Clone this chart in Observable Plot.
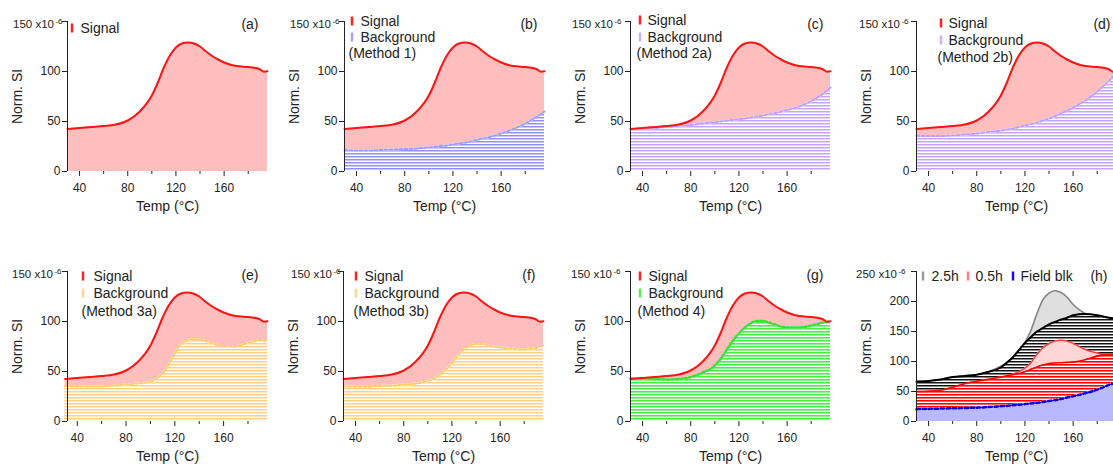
<!DOCTYPE html>
<html>
<head>
<meta charset="utf-8">
<script src="https://cdn.jsdelivr.net/npm/d3@7"></script>
<script src="https://cdn.jsdelivr.net/npm/@observablehq/plot@0.6"></script>
<style>
  html, body { margin: 0; padding: 0; background: #fff; }
  body { width: 1113px; height: 465px; overflow: hidden; position: relative; }
  .panel { position: absolute; }
  .panel svg { max-width: none; overflow: visible; }
</style>
</head>
<body>
<div id="figure"></div>
<script>
// Temperature grid (°C) shared by every curve
const temp = [30, 40, 50, 60, 70, 80, 90, 100, 105, 110, 115, 120, 125, 130, 135, 140, 145, 150, 155, 160, 170, 180, 185, 190, 193, 196];

// Normalised signal intensity (x10^-6), panels (a)-(g)
const signal     = [42.5, 43.5, 44.5, 45.5, 47, 51, 60, 76, 89, 104, 116, 124, 128, 129, 128, 125, 120, 115.5, 112, 109, 105.5, 104.5, 103.8, 102, 99.8, 100.2];
const bgMethod1  = [21.5, 21, 21, 21.5, 22, 22.5, 23, 24, 24.5, 25.5, 26, 27, 28, 29, 30, 31.5, 33, 34.5, 36, 38, 42.5, 48, 51.5, 55, 57.5, 60];
const bgMethod2a = [42.5, 43, 43.5, 44.5, 45.5, 46.5, 48, 49.5, 50, 51, 51.5, 52.5, 53, 54, 55, 56, 57.5, 58.5, 60, 61.5, 65, 70.5, 74, 78, 81, 84];
const bgMethod2b = [35.5, 35.5, 35.5, 36, 37, 38, 39.5, 41, 42, 43, 44.5, 46, 47.5, 49, 51, 53, 55.5, 58, 61, 64, 71, 80, 85.5, 91, 95, 98];
const bgMethod3a = [35.5, 35, 35, 35, 36, 37, 38, 40, 43, 48, 57, 68, 77, 81, 82.5, 82, 80.5, 78.5, 76.5, 75.5, 75.5, 78.5, 80, 81.5, 81, 80];
const bgMethod3b = [35, 35, 35, 35.5, 36, 37, 38, 40.5, 43, 47, 52, 58, 66, 72, 76, 77.5, 77.5, 76.5, 75, 74, 73, 72, 72.5, 73.5, 75, 76];
const bgMethod4  = [43, 43, 42.5, 42, 42.5, 44.5, 49, 56, 63, 72, 81, 88, 94, 98.5, 100.5, 100.5, 99, 97, 95, 94, 94, 96, 97.5, 99, 99.5, 100];

// Panel (h): heating durations and field blank
const signal25h  = [66.5, 67, 69, 73.5, 76, 78, 83, 92, 98, 107, 119, 132, 152, 180, 203, 214, 218, 215, 207, 195, 180, 175, 173, 171.5, 170.5, 170];
const bg25h      = [66.5, 67.5, 70, 74, 76, 78, 83, 90, 98, 107, 119, 131, 141, 150, 156, 162, 166, 170, 173, 177, 179, 177, 175, 173, 172, 171];
const signal05h  = [50, 50.5, 52, 57, 63, 67, 70.5, 74, 76, 79, 83, 89, 98, 112, 123, 130, 134, 135.5, 134, 130, 120, 114, 112.5, 111.5, 111.5, 112];
const bg05h      = [50, 50.5, 52, 57, 63, 67, 70.5, 74, 76, 78, 80, 83, 87, 91, 94, 96.5, 97.5, 98, 98.5, 99, 103, 109, 111, 111.5, 111.5, 112];
const fieldBlank = [20.5, 21, 21.5, 22, 22.5, 23, 24, 25.5, 26, 27, 28, 29, 30, 31, 32.5, 34, 35.5, 37.5, 40, 42, 47, 53, 57, 61, 63, 65];

// Axis ticks and labels
const xTicks = [40, 80, 120, 160];
const xMinorTicks = [60, 100, 140, 180];
const yTicks150 = [0, 50, 100, 150];
const yTicks250 = [0, 50, 100, 150, 200, 250];
const unitExponent = "-6";
const xLabel = "Temp (°C)";
const yLabel = "Norm. SI";

const SVGNS = "http://www.w3.org/2000/svg";
const INK = "#222";
const FONT = "'Liberation Sans', Arial, Helvetica, sans-serif";
const curve = "monotone-x";
const ML = 67, MT = 21, MR = 20, MB = 44, PW = 200, PH = 150;

const rows = (ys) => temp.map((t, i) => ({t, v: ys[i]}));

// Horizontal hatch patterns used for the background fills
function stripeDefs(patterns) {
  return () => {
    const defs = document.createElementNS(SVGNS, "defs");
    defs.innerHTML = patterns.map(p =>
      `<pattern id="${p.id}" patternUnits="userSpaceOnUse" width="8" height="${p.period}">` +
      `<rect width="8" height="${p.period}" fill="${p.gap || "#fff"}"/>` +
      `<rect width="8" height="${p.line}" fill="${p.color}"/></pattern>`).join("");
    return defs;
  };
}

// Small vertical legend swatches, placed relative to the plot frame
function swatches(items) {
  return (index, scales, values, dims) => {
    const g = document.createElementNS(SVGNS, "g");
    for (const s of items) {
      const r = document.createElementNS(SVGNS, "rect");
      r.setAttribute("x", dims.marginLeft + s.dx - 1.25);
      r.setAttribute("y", dims.marginTop + s.dy - 4.5);
      r.setAttribute("width", 2.5);
      r.setAttribute("height", 9);
      r.setAttribute("fill", s.color);
      g.appendChild(r);
    }
    return g;
  };
}

function label(text, anchor, dx, dy, opts = {}) {
  return Plot.text([text], {
    text: d => d, frameAnchor: anchor, dx, dy,
    textAnchor: opts.textAnchor || "start", lineAnchor: "middle",
    fontSize: opts.size || 14, rotate: opts.rotate || 0, fill: INK
  });
}

function axes(cfg) {
  const yMax = cfg.yMax;
  const ticks = yMax === 250 ? yTicks250 : yTicks150;
  return [
    Plot.ruleX([cfg.xDomain[0]], {stroke: INK, strokeWidth: 1}),
    Plot.axisY({ticks, tickSize: 5, tickPadding: 2, label: null, color: INK,
                tickFormat: d => d === yMax ? "" : String(d)}),
    Plot.axisX({ticks: xTicks, tickSize: 5, tickPadding: 7, label: null, color: INK}),
    Plot.axisX({ticks: xMinorTicks, tickSize: 3, label: null, color: INK, tickFormat: () => ""}),
    label(`${yMax} x10`, "top-left", -cfg.expDx - 8.5, 3, {textAnchor: "end", size: 11.5}),
    label(unitExponent, "top-left", -cfg.expDx, 0, {textAnchor: "end", size: 8}),
    label(yLabel, "left", -50, 0, {textAnchor: "middle", rotate: -90}),
    label(xLabel, "bottom", 0, 35, {textAnchor: "middle"}),
    label(`(${cfg.id})`, "top-right", -cfg.tagDx, cfg.tagDy, {textAnchor: "end"})
  ];
}

function legendBlock(L) {
  const marks = [];
  const sw = [];
  L.rows.forEach((r, i) => {
    const dy = L.dys[i];
    if (r.color) {
      sw.push({dx: L.barDx, dy, color: r.color});
      marks.push(label(r.text, "top-left", L.textDx, dy));
    } else {
      marks.push(label(r.text, "top-left", L.methodDx, dy));
    }
  });
  marks.unshift(swatches(sw));
  return marks;
}

function signalPanel(cfg) {
  const sig = rows(signal);
  const marks = [];
  if (cfg.bg) marks.push(stripeDefs([{id: `hatch-${cfg.id}`, color: cfg.bg.hatch, period: 3, line: cfg.bg.lineW || 1.5}]));
  marks.push(Plot.areaY(sig, {x: "t", y: "v", fill: "#ffbebe", curve}));
  if (cfg.bg) {
    const bg = rows(cfg.bg.values);
    marks.push(Plot.areaY(bg, {x: "t", y: "v", fill: `url(#hatch-${cfg.id})`, curve}));
    marks.push(Plot.lineY(bg, {x: "t", y: "v", stroke: "#fff", strokeWidth: 2, curve}));
    marks.push(Plot.lineY(bg, {x: "t", y: "v", stroke: cfg.bg.stroke, strokeWidth: cfg.bg.width || 2, strokeDasharray: cfg.bg.dash, curve}));
  }
  marks.push(Plot.lineY(sig, {x: "t", y: "v", stroke: "#ff1414", strokeWidth: 2, curve}));
  return marks;
}

function durationPanel(cfg) {
  return [
    stripeDefs([
      {id: "hatch-h-black", color: "#111", period: 3, line: 1.5},
      {id: "hatch-h-red", color: "#ff0000", period: 3, line: 1.6}
    ]),
    Plot.areaY(rows(signal25h), {x: "t", y: "v", fill: "#dedede", curve}),
    Plot.lineY(rows(signal25h), {x: "t", y: "v", stroke: "#858585", strokeWidth: 1.6, curve}),
    Plot.areaY(rows(bg25h), {x: "t", y: "v", fill: "url(#hatch-h-black)", curve}),
    Plot.lineY(rows(bg25h), {x: "t", y: "v", stroke: "#000", strokeWidth: 2, curve}),
    Plot.areaY(rows(signal05h), {x: "t", y: "v", fill: "#ffd6d6", curve}),
    Plot.lineY(rows(signal05h), {x: "t", y: "v", stroke: "#ff3a3a", strokeWidth: 1.5, curve}),
    Plot.areaY(rows(bg05h), {x: "t", y: "v", fill: "url(#hatch-h-red)", curve}),
    Plot.lineY(rows(bg05h), {x: "t", y: "v", stroke: "#ff0000", strokeWidth: 1.6, curve}),
    Plot.areaY(rows(fieldBlank), {x: "t", y: "v", fill: "#b9b9ff", curve}),
    Plot.lineY(rows(fieldBlank), {x: "t", y: "v", stroke: "#fff", strokeWidth: 2.5, curve}),
    Plot.lineY(rows(fieldBlank), {x: "t", y: "v", stroke: "#0000f0", strokeWidth: 2.5, strokeDasharray: "3.5,2.5", curve})
  ];
}

const sigKey = {text: "Signal", color: "#ff2020"};
const panels = [
  {id: "a", left: 67, top: 21, xDomain: [30, 196], yMax: 150, expDx: 5, tagDx: 9, tagDy: 3,
   legend: {barDx: 5, textDx: 13, methodDx: 4, dys: [7], rows: [sigKey]}},
  {id: "b", left: 344, top: 21, xDomain: [30, 196], yMax: 150, expDx: 5, tagDx: 7, tagDy: 3,
   bg: {values: bgMethod1, hatch: "#9090f4", stroke: "#9c9cff", dash: "3,2"},
   legend: {barDx: 8, textDx: 16, methodDx: 4, dys: [0, 16, 32],
            rows: [sigKey, {text: "Background", color: "#a4a4ff"}, {text: "(Method 1)"}]}},
  {id: "c", left: 630, top: 21, xDomain: [30, 196], yMax: 150, expDx: 9, tagDx: 7, tagDy: 3,
   bg: {values: bgMethod2a, hatch: "#c9a2fb", stroke: "#c09cff", dash: "3,2"},
   legend: {barDx: 10, textDx: 17, methodDx: 6, dys: [-1, 16, 32],
            rows: [sigKey, {text: "Background", color: "#d2b0ff"}, {text: "(Method 2a)"}]}},
  {id: "d", left: 916, top: 21, xDomain: [30, 196], yMax: 150, expDx: 8, tagDx: 6, tagDy: 3,
   bg: {values: bgMethod2b, hatch: "#c9a2fb", stroke: "#c09cff", dash: "3,2"},
   legend: {barDx: 25, textDx: 32, methodDx: 21, dys: [2, 19, 36],
            rows: [sigKey, {text: "Background", color: "#d2b0ff"}, {text: "(Method 2b)"}]}},
  {id: "e", left: 67, top: 271, xDomain: [32, 196], yMax: 150, expDx: 6, tagDx: 9, tagDy: 4,
   bg: {values: bgMethod3a, hatch: "#ffd184", stroke: "#ffcc66", dash: "3,2"},
   legend: {barDx: 16, textDx: 26, methodDx: 14, dys: [5, 22, 40],
            rows: [sigKey, {text: "Background", color: "#ffd890"}, {text: "(Method 3a)"}]}},
  {id: "f", left: 343, top: 271, xDomain: [30, 196], yMax: 150, expDx: 3, tagDx: 8, tagDy: 4,
   bg: {values: bgMethod3b, hatch: "#ffd184", stroke: "#ffcc66", dash: "3,2"},
   legend: {barDx: 13, textDx: 21, methodDx: 10, dys: [5, 22, 40],
            rows: [sigKey, {text: "Background", color: "#ffd890"}, {text: "(Method 3b)"}]}},
  {id: "g", left: 630, top: 271, xDomain: [30, 196], yMax: 150, expDx: 10, tagDx: 7, tagDy: 4,
   bg: {values: bgMethod4, hatch: "#44f044", stroke: "#38e038", dash: "2.5,2", width: 2.5, lineW: 1.6},
   legend: {barDx: 10, textDx: 18, methodDx: 7, dys: [5, 22, 40],
            rows: [sigKey, {text: "Background", color: "#55ee55"}, {text: "(Method 4)"}]}},
  {id: "h", left: 916, top: 271, xDomain: [30, 196], yMax: 250, expDx: 11, tagDx: 9, tagDy: 5}
];

const figure = document.getElementById("figure");
for (const cfg of panels) {
  let marks = cfg.id === "h" ? durationPanel(cfg) : signalPanel(cfg);
  marks = marks.concat(axes(cfg));
  if (cfg.legend) marks = marks.concat(legendBlock(cfg.legend));
  else {
    // inline legend of panel (h)
    marks.push(swatches([
      {dx: 7, dy: 5, color: "#9a9a9a"},
      {dx: 52, dy: 5, color: "#ff8080"},
      {dx: 97, dy: 5, color: "#1010ff"}
    ]));
    marks.push(label("2.5h", "top-left", 15, 5));
    marks.push(label("0.5h", "top-left", 59, 5));
    marks.push(label("Field blk", "top-left", 104, 5));
  }
  const chart = Plot.plot({
    width: ML + PW + MR, height: MT + PH + MB,
    marginLeft: ML, marginTop: MT, marginRight: MR, marginBottom: MB,
    x: {domain: cfg.xDomain},
    y: {domain: [0, cfg.yMax]},
    style: {fontFamily: FONT, fontSize: "12px", color: INK, background: "transparent", overflow: "visible"},
    marks
  });
  const holder = document.createElement("div");
  holder.className = "panel";
  holder.style.left = (cfg.left - ML) + "px";
  holder.style.top = (cfg.top - MT) + "px";
  holder.style.width = (ML + PW + MR) + "px";
  holder.appendChild(chart);
  figure.appendChild(holder);
}
</script>
</body>
</html>
